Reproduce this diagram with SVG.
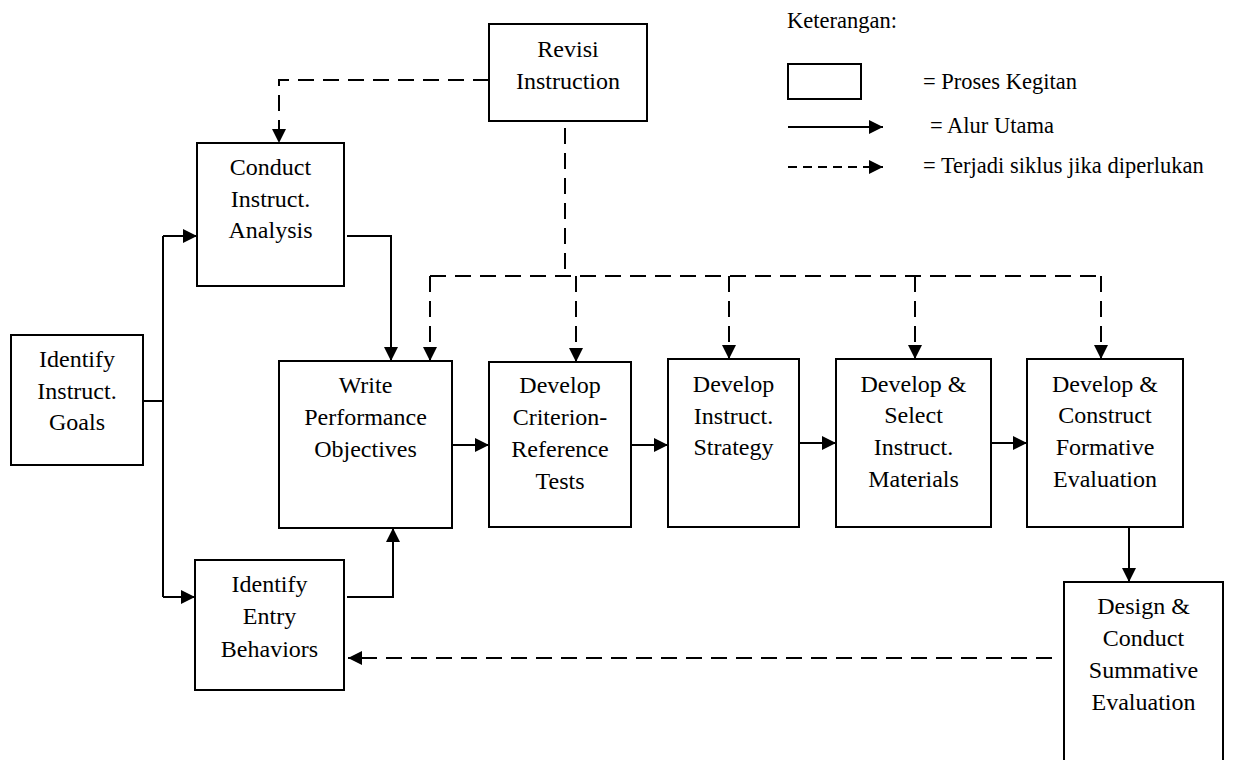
<svg xmlns="http://www.w3.org/2000/svg" width="1239" height="760" viewBox="0 0 1239 760">
<style>
.box{fill:#fff;stroke:#000;stroke-width:2}
.t{font-family:"Liberation Serif","Times New Roman",serif;font-size:24px;fill:#000;text-anchor:middle}
.lg{font-family:"Liberation Serif","Times New Roman",serif;font-size:22.5px;fill:#000}
.c{fill:none;stroke:#000;stroke-width:2}
.d{fill:none;stroke:#000;stroke-width:2;stroke-dasharray:16,9}
</style>
<defs>
<marker id="ah" markerUnits="userSpaceOnUse" markerWidth="15" markerHeight="15" refX="14" refY="7" orient="auto">
<path d="M0,0 L14,7 L0,14 z" fill="#000"/>
</marker>
</defs>
<rect width="1239" height="760" fill="#fff"/>

<g id="connectors">
<path class="c" d="M143,401 H163"/>
<path class="c" d="M163,236 V597"/>
<path class="c" d="M163,236 H197" marker-end="url(#ah)"/>
<path class="c" d="M163,597 H195" marker-end="url(#ah)"/>
<path class="c" d="M347,236 H391 V361" marker-end="url(#ah)"/>
<path class="c" d="M347,597 H393 V528" marker-end="url(#ah)"/>
<path class="c" d="M452,445 H489" marker-end="url(#ah)"/>
<path class="c" d="M631,445 H668" marker-end="url(#ah)"/>
<path class="c" d="M799,443 H836" marker-end="url(#ah)"/>
<path class="c" d="M991,443 H1027" marker-end="url(#ah)"/>
<path class="c" d="M1129,527 V582" marker-end="url(#ah)"/>
<path class="d" d="M489,80 H279 V143" marker-end="url(#ah)"/>
<path class="d" d="M565,128 V276"/>
<path class="d" d="M430,276 H1101"/>
<path class="d" d="M430,276 V361" marker-end="url(#ah)"/>
<path class="d" d="M576,276 V362" marker-end="url(#ah)"/>
<path class="d" d="M729,276 V359" marker-end="url(#ah)"/>
<path class="d" d="M915,276 V359" marker-end="url(#ah)"/>
<path class="d" d="M1101,276 V359" marker-end="url(#ah)"/>
<path class="d" d="M1052,658 H348" marker-end="url(#ah)"/>
</g>

<g id="revisi">
<rect class="box" x="489" y="24" width="158" height="97"/>
<text class="t" x="568" y="57">Revisi</text>
<text class="t" x="568" y="89">Instruction</text>
</g>
<g id="conduct">
<rect class="box" x="197" y="143" width="147" height="143"/>
<text class="t" x="270.5" y="175">Conduct</text>
<text class="t" x="270.5" y="207">Instruct.</text>
<text class="t" x="270.5" y="238">Analysis</text>
</g>
<g id="goals">
<rect class="box" x="11" y="335" width="132" height="130"/>
<text class="t" x="77" y="367">Identify</text>
<text class="t" x="77" y="399">Instruct.</text>
<text class="t" x="77" y="430">Goals</text>
</g>
<g id="write">
<rect class="box" x="279" y="361" width="173" height="167"/>
<text class="t" x="365.5" y="393">Write</text>
<text class="t" x="365.5" y="425">Performance</text>
<text class="t" x="365.5" y="457">Objectives</text>
</g>
<g id="entry">
<rect class="box" x="195" y="560" width="149" height="130"/>
<text class="t" x="269.5" y="592">Identify</text>
<text class="t" x="269.5" y="624">Entry</text>
<text class="t" x="269.5" y="657">Behaviors</text>
</g>
<g id="criterion">
<rect class="box" x="489" y="362" width="142" height="165"/>
<text class="t" x="560" y="393">Develop</text>
<text class="t" x="560" y="425">Criterion-</text>
<text class="t" x="560" y="457">Reference</text>
<text class="t" x="560" y="489">Tests</text>
</g>
<g id="strategy">
<rect class="box" x="668" y="359" width="131" height="168"/>
<text class="t" x="733.5" y="392">Develop</text>
<text class="t" x="733.5" y="424">Instruct.</text>
<text class="t" x="733.5" y="455">Strategy</text>
</g>
<g id="materials">
<rect class="box" x="836" y="359" width="155" height="168"/>
<text class="t" x="913.5" y="392">Develop &amp;</text>
<text class="t" x="913.5" y="423">Select</text>
<text class="t" x="913.5" y="455">Instruct.</text>
<text class="t" x="913.5" y="487">Materials</text>
</g>
<g id="formative">
<rect class="box" x="1027" y="359" width="156" height="168"/>
<text class="t" x="1105" y="392">Develop &amp;</text>
<text class="t" x="1105" y="423">Construct</text>
<text class="t" x="1105" y="455">Formative</text>
<text class="t" x="1105" y="487">Evaluation</text>
</g>
<g id="summative">
<rect class="box" x="1064" y="582" width="159" height="190"/>
<text class="t" x="1143.5" y="614">Design &amp;</text>
<text class="t" x="1143.5" y="646">Conduct</text>
<text class="t" x="1143.5" y="678">Summative</text>
<text class="t" x="1143.5" y="710">Evaluation</text>
</g>

<g id="legend">
<text class="lg" x="787" y="28">Keterangan:</text>
<rect class="box" x="788" y="64" width="73" height="35"/>
<text class="lg" x="923" y="89">= Proses Kegitan</text>
<path class="c" d="M788,127 H883" marker-end="url(#ah)"/>
<text class="lg" x="930" y="133">= Alur Utama</text>
<path class="c" d="M788,167 H883" stroke-dasharray="9,6" marker-end="url(#ah)"/>
<text class="lg" x="923" y="173">= Terjadi siklus jika diperlukan</text>
</g>
</svg>
